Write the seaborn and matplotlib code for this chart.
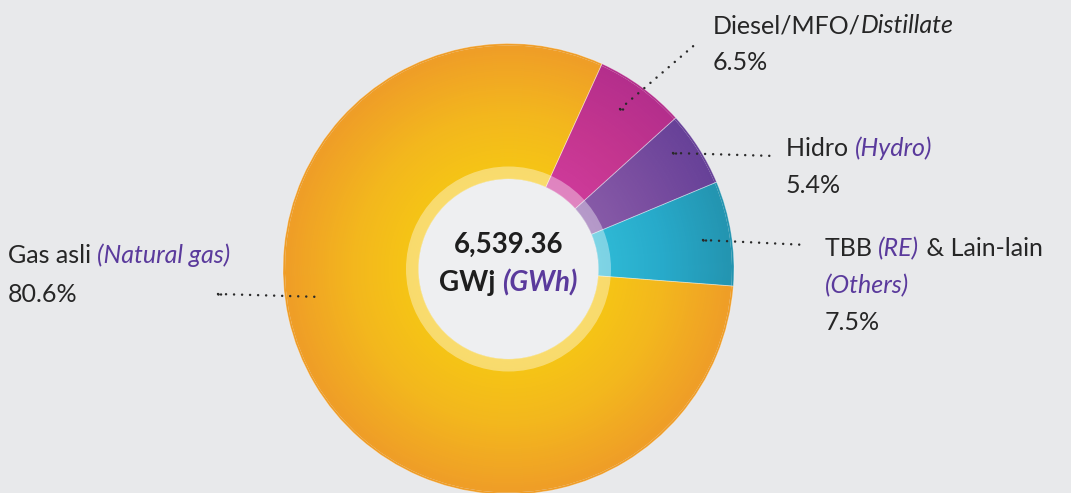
import matplotlib
matplotlib.use("Agg")
import matplotlib.pyplot as plt
import seaborn as sns
import numpy as np

# ---- data ----
categories = ["Diesel/MFO/Distillate", "Hidro", "TBB & Lain-lain", "Gas asli"]
values = [6.5, 5.4, 7.5, 80.6]
pct_labels = ["6.5%", "5.4%", "7.5%", "80.6%"]
total_value = "6,539.36"

inner_colors = ["#CF3B9C", "#8A5DA9", "#30BCD7", "#F6C813"]
mid_colors = ["#C4358F", "#7A4EA0", "#27AACA", "#F3B71D"]
outer_colors = ["#B42E8C", "#674198", "#2394B0", "#EF9D27"]

BG = "#E8E9EB"
TXT = "#262626"
PURP = "#5A3A9C"

sns.set_theme(style="white")
plt.rcParams["font.family"] = ["Lato", "DejaVu Sans"]

W, H = 1071, 493
fig = plt.figure(figsize=(W / 100, H / 100), dpi=100, facecolor=BG)
ax = fig.add_axes([0, 0, 1, 1])
ax.set_facecolor(BG)

def Y(y):
    return H - y

cx, cy = 508.5, Y(269)
R_out, R_ring, R_in = 225.5, 102.5, 90.0
start = 65.5

# gradient donut built from concentric rings
N = 70
r0 = 85.0
dr = (R_out - r0) / N
pals = [sns.blend_palette([i, m, o], N) for i, m, o in zip(inner_colors, mid_colors, outer_colors)]
for k in range(N):
    r = r0 + (k + 1) * dr
    cols = [pals[j][k] for j in range(len(values))]
    ax.pie(values, radius=r, center=(cx, cy), startangle=start, counterclock=False,
           colors=cols, wedgeprops=dict(width=dr + 0.8 if k < N - 1 else dr, linewidth=0, antialiased=True))

# faint separators
ax.pie(values, radius=R_out, center=(cx, cy), startangle=start, counterclock=False,
       colors=[(0, 0, 0, 0)] * len(values),
       wedgeprops=dict(width=R_out - R_in, linewidth=0.6, edgecolor=(1, 1, 1, 0.35), fill=False))

# translucent ring and inner disc
ax.pie([1], radius=R_ring, center=(cx, cy), colors=[(1, 1, 1, 0.38)],
       wedgeprops=dict(width=R_ring - R_in, linewidth=0))
ax.pie([1], radius=R_in, center=(cx, cy), colors=["#EEEFF1"], wedgeprops=dict(linewidth=0))

ax.set_xlim(0, W)
ax.set_ylim(0, H)
ax.set_aspect("equal")
ax.axis("off")

renderer = fig.canvas.get_renderer()

def measure(parts, size):
    tot = 0
    for txt, style, col, weight in parts:
        t = ax.text(0, 0, txt, fontsize=size, style=style, weight=weight)
        tot += t.get_window_extent(renderer).width
        t.remove()
    return tot

def rich(x, y, parts, size=18, center=False):
    if center:
        x = x - measure(parts, size) / 2
    for txt, style, col, weight in parts:
        t = ax.text(x, y, txt, fontsize=size, style=style, color=col, weight=weight,
                    va="baseline", ha="left")
        x += t.get_window_extent(renderer).width

N_ = "normal"
I_ = "italic"

# labels
rich(713, Y(33), [("Diesel/MFO/", N_, TXT, N_), ("Distillate", I_, TXT, N_)])
rich(713, Y(70), [(pct_labels[0], N_, TXT, N_)])

rich(786, Y(156), [(categories[1] + " ", N_, TXT, N_), ("(Hydro)", I_, PURP, N_)])
rich(786, Y(193), [(pct_labels[1], N_, TXT, N_)])

rich(825, Y(256), [("TBB ", N_, TXT, N_), ("(RE)", I_, PURP, N_), (" & Lain-lain", N_, TXT, N_)])
rich(825, Y(293), [("(Others)", I_, PURP, N_)])
rich(825, Y(330), [(pct_labels[2], N_, TXT, N_)])

rich(8, Y(263), [(categories[3] + " ", N_, TXT, N_), ("(Natural gas)", I_, PURP, N_)])
rich(8, Y(302), [(pct_labels[3], N_, TXT, N_)])

# centre text
rich(cx, Y(253), [(total_value, N_, "#1E1E1E", "bold")], size=20, center=True)
rich(cx, Y(291), [("GWj ", N_, "#1E1E1E", "bold"), ("(GWh)", I_, PURP, "bold")], size=20, center=True)

# dotted leader lines
leaders = [((620, 109), (698, 42)),
           ((673, 153), (775, 156)),
           ((703, 240), (807, 245)),
           ((218, 294), (322, 297))]
for (x0, y0), (x1, y1) in leaders:
    ax.plot([x0, x1], [Y(y0), Y(y1)], color="#2A2A2A", lw=1.8,
            linestyle=(0, (0.01, 3.2)), dash_capstyle="round", solid_capstyle="round")
    ax.plot([x0, x0 + 3 * np.sign(x1 - x0)], [Y(y0), Y(y0)], color="#2A2A2A", lw=1.8,
            linestyle=(0, (0.01, 1.0)), dash_capstyle="round")

fig.savefig("out.png", dpi=100, facecolor=BG)
